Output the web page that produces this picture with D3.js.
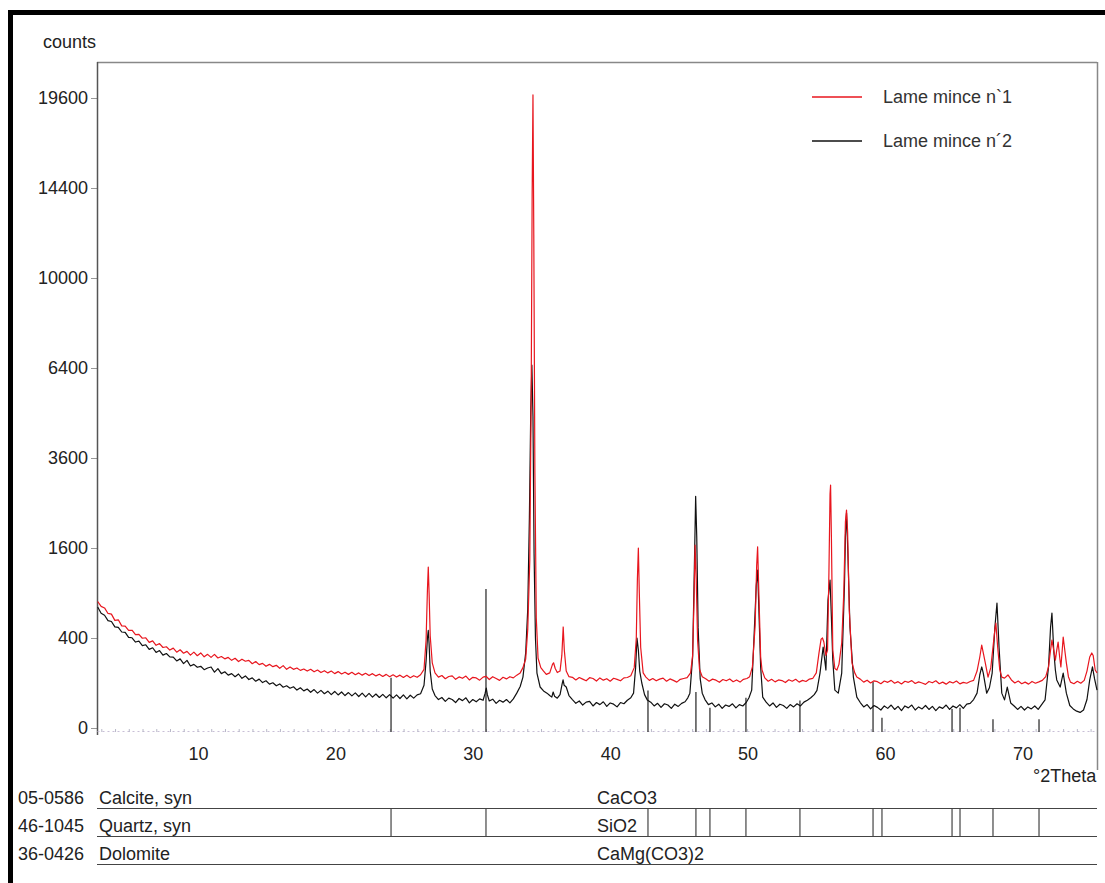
<!DOCTYPE html>
<html><head><meta charset="utf-8">
<script src="https://cdn.jsdelivr.net/npm/d3@7"></script>
<style>
html,body{margin:0;padding:0;background:#fff;}
svg{display:block;font-family:"Liberation Sans",Arial,sans-serif;}
</style></head>
<body><svg id="c" width="1105" height="883"></svg>
<script>
// ---------- data ----------
const seriesNames = ["Lame mince n`1", "Lame mince n\u00B42"];
const seriesColors = ["#e8161e", "#111111"];
const countTicks = [0, 400, 1600, 3600, 6400, 10000, 14400, 19600];
const twoThetaTicks = [10, 20, 30, 40, 50, 60, 70];

// Lame mince n`1 : [°2Theta, counts]
const lame1 = [
[2.70,790],[2.95,730],[3.20,712],[3.45,648],[3.70,640],[3.95,572],[4.20,578],[4.45,515],[4.70,512],[4.95,470],
[5.20,472],[5.45,430],[5.70,432],[5.95,398],[6.20,402],[6.45,362],[6.70,375],[6.95,338],[7.20,352],[7.45,320],
[7.70,326],[7.95,300],[8.20,315],[8.45,284],[8.70,302],[8.95,276],[9.20,290],[9.45,262],[9.70,284],[9.95,258],
[10.20,278],[10.45,250],[10.70,268],[10.95,246],[11.20,268],[11.45,242],[11.70,252],[11.95,236],[12.20,246],[12.45,226],
[12.70,240],[12.95,218],[13.20,234],[13.45,220],[13.70,226],[13.95,204],[14.20,218],[14.45,198],[14.70,206],[14.95,188],
[15.20,200],[15.45,186],[15.70,194],[15.95,176],[16.20,192],[16.45,170],[16.70,184],[16.95,170],[17.20,178],[17.45,164],
[17.70,172],[17.95,160],[18.20,170],[18.45,156],[18.70,166],[18.95,152],[19.20,162],[19.45,150],[19.70,160],[19.95,146],
[20.20,157],[20.45,144],[20.70,154],[20.95,142],[21.20,153],[21.45,140],[21.70,150],[21.95,138],[22.20,148],[22.45,136],
[22.70,146],[22.95,134],[23.20,143],[23.45,131],[23.70,142],[23.95,130],[24.20,140],[24.45,128],[24.70,138],[24.95,126],
[25.20,137],[25.45,125],[25.70,135],[25.95,127],[26.20,140],[26.45,170],[26.60,380],[26.70,950],[26.76,1280],[26.82,900],
[26.90,420],[27.05,210],[27.25,150],[27.50,128],[27.75,136],[28.00,120],[28.25,131],[28.50,134],[28.75,117],[29.00,129],
[29.25,122],[29.50,133],[29.75,114],[30.00,127],[30.25,124],[30.50,113],[30.75,128],[30.96,132],[31.20,116],[31.45,130],
[31.70,121],[31.95,112],[32.20,127],[32.45,119],[32.70,130],[32.95,124],[33.20,138],[33.45,150],[33.65,180],[33.85,235],
[34.00,480],[34.15,1400],[34.25,5500],[34.32,14000],[34.38,19790],[34.44,12000],[34.52,3200],[34.62,600],[34.75,240],[34.95,180],
[35.15,160],[35.35,142],[35.60,150],[35.80,200],[35.88,210],[36.00,175],[36.15,152],[36.35,160],[36.48,260],[36.58,504],
[36.66,300],[36.80,160],[37.00,130],[37.25,127],[37.50,114],[37.75,126],[38.00,118],[38.25,110],[38.50,125],[38.75,121],
[39.00,109],[39.25,124],[39.50,113],[39.75,120],[40.00,108],[40.25,122],[40.50,117],[40.75,110],[41.00,124],[41.25,126],
[41.50,135],[41.75,180],[41.90,400],[41.98,1100],[42.05,1600],[42.12,900],[42.22,320],[42.40,150],[42.60,128],[42.85,112],
[43.10,121],[43.35,110],[43.60,118],[43.85,123],[44.10,108],[44.35,119],[44.60,112],[44.85,104],[45.10,117],[45.35,121],
[45.60,125],[45.85,150],[46.00,260],[46.10,800],[46.18,1650],[46.26,1100],[46.36,380],[46.50,170],[46.70,130],[46.95,120],
[47.20,108],[47.45,118],[47.70,113],[47.95,103],[48.20,116],[48.45,110],[48.70,119],[48.95,106],[49.20,114],[49.45,104],
[49.70,117],[49.95,121],[50.15,130],[50.35,184],[50.55,520],[50.66,1300],[50.73,1620],[50.82,900],[50.95,250],[51.05,166],
[51.25,124],[51.50,108],[51.75,117],[52.00,105],[52.25,114],[52.50,111],[52.75,102],[53.00,115],[53.25,108],[53.50,117],
[53.75,104],[54.00,112],[54.25,107],[54.50,118],[54.75,122],[55.00,150],[55.20,280],[55.35,390],[55.45,400],[55.55,365],
[55.70,260],[55.82,300],[55.92,1200],[56.00,2700],[56.04,2916],[56.10,1800],[56.20,300],[56.35,175],[56.50,166],[56.65,200],
[56.85,357],[57.00,900],[57.12,2100],[57.20,2347],[57.28,1900],[57.40,688],[57.60,209],[57.80,150],[57.95,128],[58.20,118],
[58.45,104],[58.70,113],[58.95,100],[59.20,110],[59.45,106],[59.70,97],[59.95,109],[60.20,103],[60.45,112],[60.70,99],
[60.95,106],[61.20,96],[61.45,108],[61.70,103],[61.95,111],[62.20,98],[62.45,105],[62.70,100],[62.95,94],[63.20,107],
[63.45,101],[63.70,110],[63.95,97],[64.20,104],[64.45,95],[64.70,106],[64.95,100],[65.20,109],[65.45,96],[65.70,103],
[65.95,99],[66.20,107],[66.45,112],[66.70,160],[66.90,249],[67.04,340],[67.15,280],[67.30,209],[67.50,128],[67.70,180],
[67.86,324],[68.00,480],[68.07,544],[68.20,324],[68.35,170],[68.50,128],[68.70,123],[68.95,139],[69.20,114],[69.45,100],
[69.70,109],[69.95,97],[70.20,104],[70.45,95],[70.70,107],[70.95,99],[71.20,105],[71.45,112],[71.70,130],[71.90,184],
[72.05,300],[72.15,382],[72.28,300],[72.40,228],[72.50,300],[72.60,365],[72.70,260],[72.80,184],[72.90,300],[72.97,409],
[73.05,330],[73.20,209],[73.35,130],[73.50,104],[73.75,97],[74.00,108],[74.25,99],[74.50,112],[74.70,160],[74.90,249],
[75.05,278],[75.15,260],[75.30,166],[75.43,150]
];

// Lame mince n´2 : [°2Theta, counts]
const lame2 = [
[2.70,723],[2.95,650],[3.20,628],[3.45,570],[3.70,560],[3.95,505],[4.20,500],[4.45,455],[4.70,452],[4.95,405],
[5.20,402],[5.45,365],[5.70,372],[5.95,335],[6.20,342],[6.45,305],[6.70,318],[6.95,282],[7.20,296],[7.45,262],
[7.70,274],[7.95,250],[8.20,248],[8.45,222],[8.70,236],[8.95,205],[9.20,226],[9.45,190],[9.70,200],[9.95,182],
[10.20,188],[10.45,168],[10.70,178],[10.95,184],[11.20,154],[11.45,174],[11.70,146],[11.95,156],[12.20,138],[12.45,146],
[12.70,130],[12.95,144],[13.20,122],[13.45,134],[13.70,116],[13.95,124],[14.20,108],[14.45,118],[14.70,102],[14.95,110],
[15.20,95],[15.45,101],[15.70,88],[15.95,96],[16.20,82],[16.45,88],[16.70,78],[16.95,84],[17.20,71],[17.45,80],
[17.70,68],[17.95,75],[18.20,63],[18.45,73],[18.70,60],[18.95,70],[19.20,58],[19.45,67],[19.70,55],[19.95,66],
[20.20,54],[20.45,64],[20.70,52],[20.95,62],[21.20,51],[21.45,61],[21.70,49],[21.95,60],[22.20,48],[22.45,59],
[22.70,47],[22.95,57],[23.20,46],[23.45,56],[23.70,45],[23.95,55],[24.20,44],[24.45,54],[24.70,43],[24.95,54],
[25.20,42],[25.45,53],[25.70,44],[25.95,54],[26.20,58],[26.45,90],[26.60,220],[26.70,400],[26.76,470],[26.82,350],
[26.90,160],[27.05,75],[27.25,52],[27.50,40],[27.75,46],[28.00,35],[28.25,44],[28.50,40],[28.75,32],[29.00,43],
[29.25,37],[29.50,45],[29.75,31],[30.00,40],[30.25,34],[30.50,42],[30.75,38],[30.90,60],[30.98,79],[31.06,55],
[31.20,36],[31.45,41],[31.70,30],[31.95,38],[32.20,33],[32.45,40],[32.70,31],[32.95,42],[33.20,60],[33.45,85],
[33.65,128],[33.85,280],[34.00,700],[34.12,2200],[34.22,5000],[34.30,6500],[34.38,4800],[34.46,1500],[34.56,400],[34.67,149],
[34.90,83],[35.15,68],[35.40,60],[35.60,52],[35.75,47],[35.85,64],[35.95,50],[36.15,44],[36.35,55],[36.50,95],
[36.57,114],[36.65,90],[36.80,83],[37.00,52],[37.25,40],[37.50,30],[37.75,36],[38.00,26],[38.25,33],[38.50,35],
[38.75,24],[39.00,32],[39.25,27],[39.50,34],[39.75,23],[40.00,31],[40.25,28],[40.50,22],[40.75,32],[41.00,29],
[41.25,38],[41.50,45],[41.70,60],[41.85,180],[41.95,400],[42.05,300],[42.15,160],[42.30,100],[42.50,55],[42.70,39],
[42.95,33],[43.20,24],[43.45,30],[43.70,21],[43.95,29],[44.20,26],[44.45,19],[44.70,28],[44.95,23],[45.20,30],
[45.45,34],[45.65,45],[45.80,60],[46.00,250],[46.12,1200],[46.22,2650],[46.30,1800],[46.40,500],[46.55,120],[46.70,60],
[46.90,40],[47.15,27],[47.40,31],[47.65,22],[47.90,28],[48.15,19],[48.40,26],[48.65,23],[48.90,29],[49.15,20],
[49.40,27],[49.65,24],[49.90,32],[50.10,45],[50.30,71],[50.50,504],[50.63,1000],[50.73,1233],[50.82,700],[50.95,184],
[51.10,47],[51.35,33],[51.60,24],[51.85,31],[52.10,21],[52.35,28],[52.60,25],[52.85,19],[53.10,27],[53.35,22],
[53.60,29],[53.85,24],[54.10,33],[54.35,38],[54.60,45],[54.85,55],[55.05,70],[55.27,149],[55.50,324],[55.70,166],
[55.85,809],[56.00,1082],[56.10,600],[56.20,228],[56.35,71],[56.60,60],[56.85,149],[57.05,1000],[57.12,1800],[57.20,2283],
[57.30,1500],[57.45,504],[57.70,128],[57.95,47],[58.20,32],[58.45,22],[58.70,27],[58.95,18],[59.20,25],[59.45,21],
[59.70,16],[59.95,24],[60.20,19],[60.45,26],[60.70,17],[60.95,23],[61.20,15],[61.45,24],[61.70,20],[61.95,26],
[62.20,16],[62.45,22],[62.70,18],[62.95,25],[63.20,17],[63.45,23],[63.70,15],[63.95,22],[64.20,19],[64.45,26],
[64.70,17],[64.95,24],[65.20,20],[65.45,27],[65.70,19],[65.95,28],[66.20,30],[66.45,40],[66.70,60],[66.90,140],
[67.04,184],[67.15,150],[67.40,60],[67.60,80],[67.80,149],[68.00,504],[68.15,771],[68.30,324],[68.50,60],[68.70,39],
[68.90,83],[69.15,31],[69.40,24],[69.65,17],[69.90,23],[70.15,16],[70.40,22],[70.65,18],[70.90,24],[71.15,17],
[71.40,27],[71.65,39],[71.90,184],[72.05,500],[72.15,653],[72.28,300],[72.40,166],[72.50,114],[72.75,83],[72.97,149],
[73.20,60],[73.45,25],[73.70,18],[73.95,14],[74.20,12],[74.45,16],[74.70,40],[74.90,114],[75.10,184],[75.25,120],
[75.43,71]
];

// Quartz (46-1045) reference lines: position (°2Theta) and relative intensity
const quartzPos = [24.05, 30.96, 42.75, 46.24, 47.26, 49.88, 53.81, 59.13, 59.78, 64.88, 65.46, 67.86, 71.21];
const quartzInt = [38, 100, 29, 28, 17, 24, 22, 35, 10, 16, 17, 9, 9];

// Reference pattern table
const refCodes = ["05-0586", "46-1045", "36-0426"];
const refNames = ["Calcite, syn", "Quartz, syn", "Dolomite"];
const refFormulas = ["CaCO3", "SiO2", "CaMg(CO3)2"];

// ---------- drawing ----------
const svg = d3.select("#c");
const FS = 18;
const plot = {left: 97, right: 1097, top: 62, zeroY: 728, axisBottom: 735, rightBottom: 770};

const x = d3.scaleLinear().domain([2.65, 75.43]).range([plot.left, plot.right]);
const y = d3.scaleSqrt().domain([0, 21904]).range([plot.zeroY, plot.top]);
const stickY = d3.scaleLinear().domain([0, 100]).range([732, 589]);

// outer frame
svg.append("rect").attr("x", 10.5).attr("y", 12.5).attr("width", 1200).attr("height", 1000)
  .attr("fill", "none").attr("stroke", "#000").attr("stroke-width", 5);

// plot frame
svg.append("line").attr("x1", plot.left).attr("x2", plot.right).attr("y1", plot.top + 0.5).attr("y2", plot.top + 0.5)
  .attr("stroke", "#888").attr("stroke-width", 1.5);
svg.append("line").attr("x1", plot.right + 0.5).attr("x2", plot.right + 0.5).attr("y1", plot.top).attr("y2", plot.rightBottom)
  .attr("stroke", "#888").attr("stroke-width", 1.5);

// y axis
const yAxis = d3.axisLeft(y).tickValues(countTicks).tickSize(6).tickPadding(3).tickFormat(d3.format("d"));
const gy = svg.append("g").attr("transform", `translate(${plot.left},0)`).call(yAxis);
gy.select(".domain").remove();
gy.selectAll(".tick line").attr("stroke", "#999");
gy.selectAll(".tick text").attr("font-size", FS).attr("fill", "#222").attr("font-family", "Liberation Sans, Arial, sans-serif");
svg.append("line").attr("x1", plot.left + 0.5).attr("x2", plot.left + 0.5).attr("y1", plot.top).attr("y2", plot.axisBottom)
  .attr("stroke", "#555").attr("stroke-width", 1.5);

// x axis (faint dotted baseline with minor ticks)
const xAxis = d3.axisBottom(x).tickValues(twoThetaTicks).tickSize(0).tickPadding(16).tickFormat(d3.format("d"));
const gx = svg.append("g").attr("transform", `translate(0,${plot.zeroY + 3})`).call(xAxis);
gx.select(".domain").attr("stroke", "#c8bfd6").attr("stroke-dasharray", "2,3");
gx.selectAll(".tick text").attr("font-size", FS).attr("fill", "#222").attr("font-family", "Liberation Sans, Arial, sans-serif");
const minor = d3.range(3, 76, 1);
svg.append("g").selectAll("line").data(minor).join("line")
  .attr("x1", d => x(d)).attr("x2", d => x(d)).attr("y1", plot.zeroY + 1).attr("y2", plot.zeroY + 4)
  .attr("stroke", "#b8b8c8").attr("stroke-width", 1);

// quartz sticks in plot
svg.append("g").selectAll("line").data(quartzPos).join("line")
  .attr("x1", d => x(d)).attr("x2", d => x(d))
  .attr("y1", stickY(0)).attr("y2", (d, i) => stickY(quartzInt[i]))
  .attr("stroke", "#333").attr("stroke-width", 1.3);

// series lines
const line = d3.line().x(d => x(d[0])).y(d => y(d[1]));
svg.append("path").datum(lame2).attr("d", line).attr("fill", "none")
  .attr("stroke", seriesColors[1]).attr("stroke-width", 1.2).attr("stroke-linejoin", "round");
svg.append("path").datum(lame1).attr("d", line).attr("fill", "none")
  .attr("stroke", seriesColors[0]).attr("stroke-width", 1.2).attr("stroke-linejoin", "round");

// axis titles
svg.append("text").attr("x", 43).attr("y", 48).text("counts").attr("font-size", FS).attr("fill", "#222");
svg.append("text").attr("x", 1033).attr("y", 782).text("\u00B02Theta").attr("font-size", FS).attr("fill", "#222");

// legend
const leg = svg.append("g");
seriesNames.forEach((n, i) => {
  const ly = 97 + i * 44;
  leg.append("line").attr("x1", 812).attr("x2", 862).attr("y1", ly).attr("y2", ly)
    .attr("stroke", seriesColors[i]).attr("stroke-width", 1.3);
  leg.append("text").attr("x", 883).attr("y", ly + 6).text(n).attr("font-size", FS).attr("fill", "#333");
});

// reference table
const rowBase = [804, 832, 860];
const rowLine = [808, 836, 864];
const tbl = svg.append("g");
refCodes.forEach((c, i) => {
  tbl.append("text").attr("x", 18).attr("y", rowBase[i]).text(c).attr("font-size", FS).attr("fill", "#222");
  tbl.append("text").attr("x", 99).attr("y", rowBase[i]).text(refNames[i]).attr("font-size", FS).attr("fill", "#222");
  tbl.append("text").attr("x", 597).attr("y", rowBase[i]).text(refFormulas[i]).attr("font-size", FS).attr("fill", "#222");
  tbl.append("line").attr("x1", plot.left).attr("x2", plot.right).attr("y1", rowLine[i] + 0.5).attr("y2", rowLine[i] + 0.5)
    .attr("stroke", "#444").attr("stroke-width", 1.2);
});
// quartz sticks in the table row
tbl.append("g").selectAll("line").data(quartzPos).join("line")
  .attr("x1", d => x(d)).attr("x2", d => x(d))
  .attr("y1", rowLine[0]).attr("y2", rowLine[1])
  .attr("stroke", "#444").attr("stroke-width", 1.2);
</script>
</body></html>
